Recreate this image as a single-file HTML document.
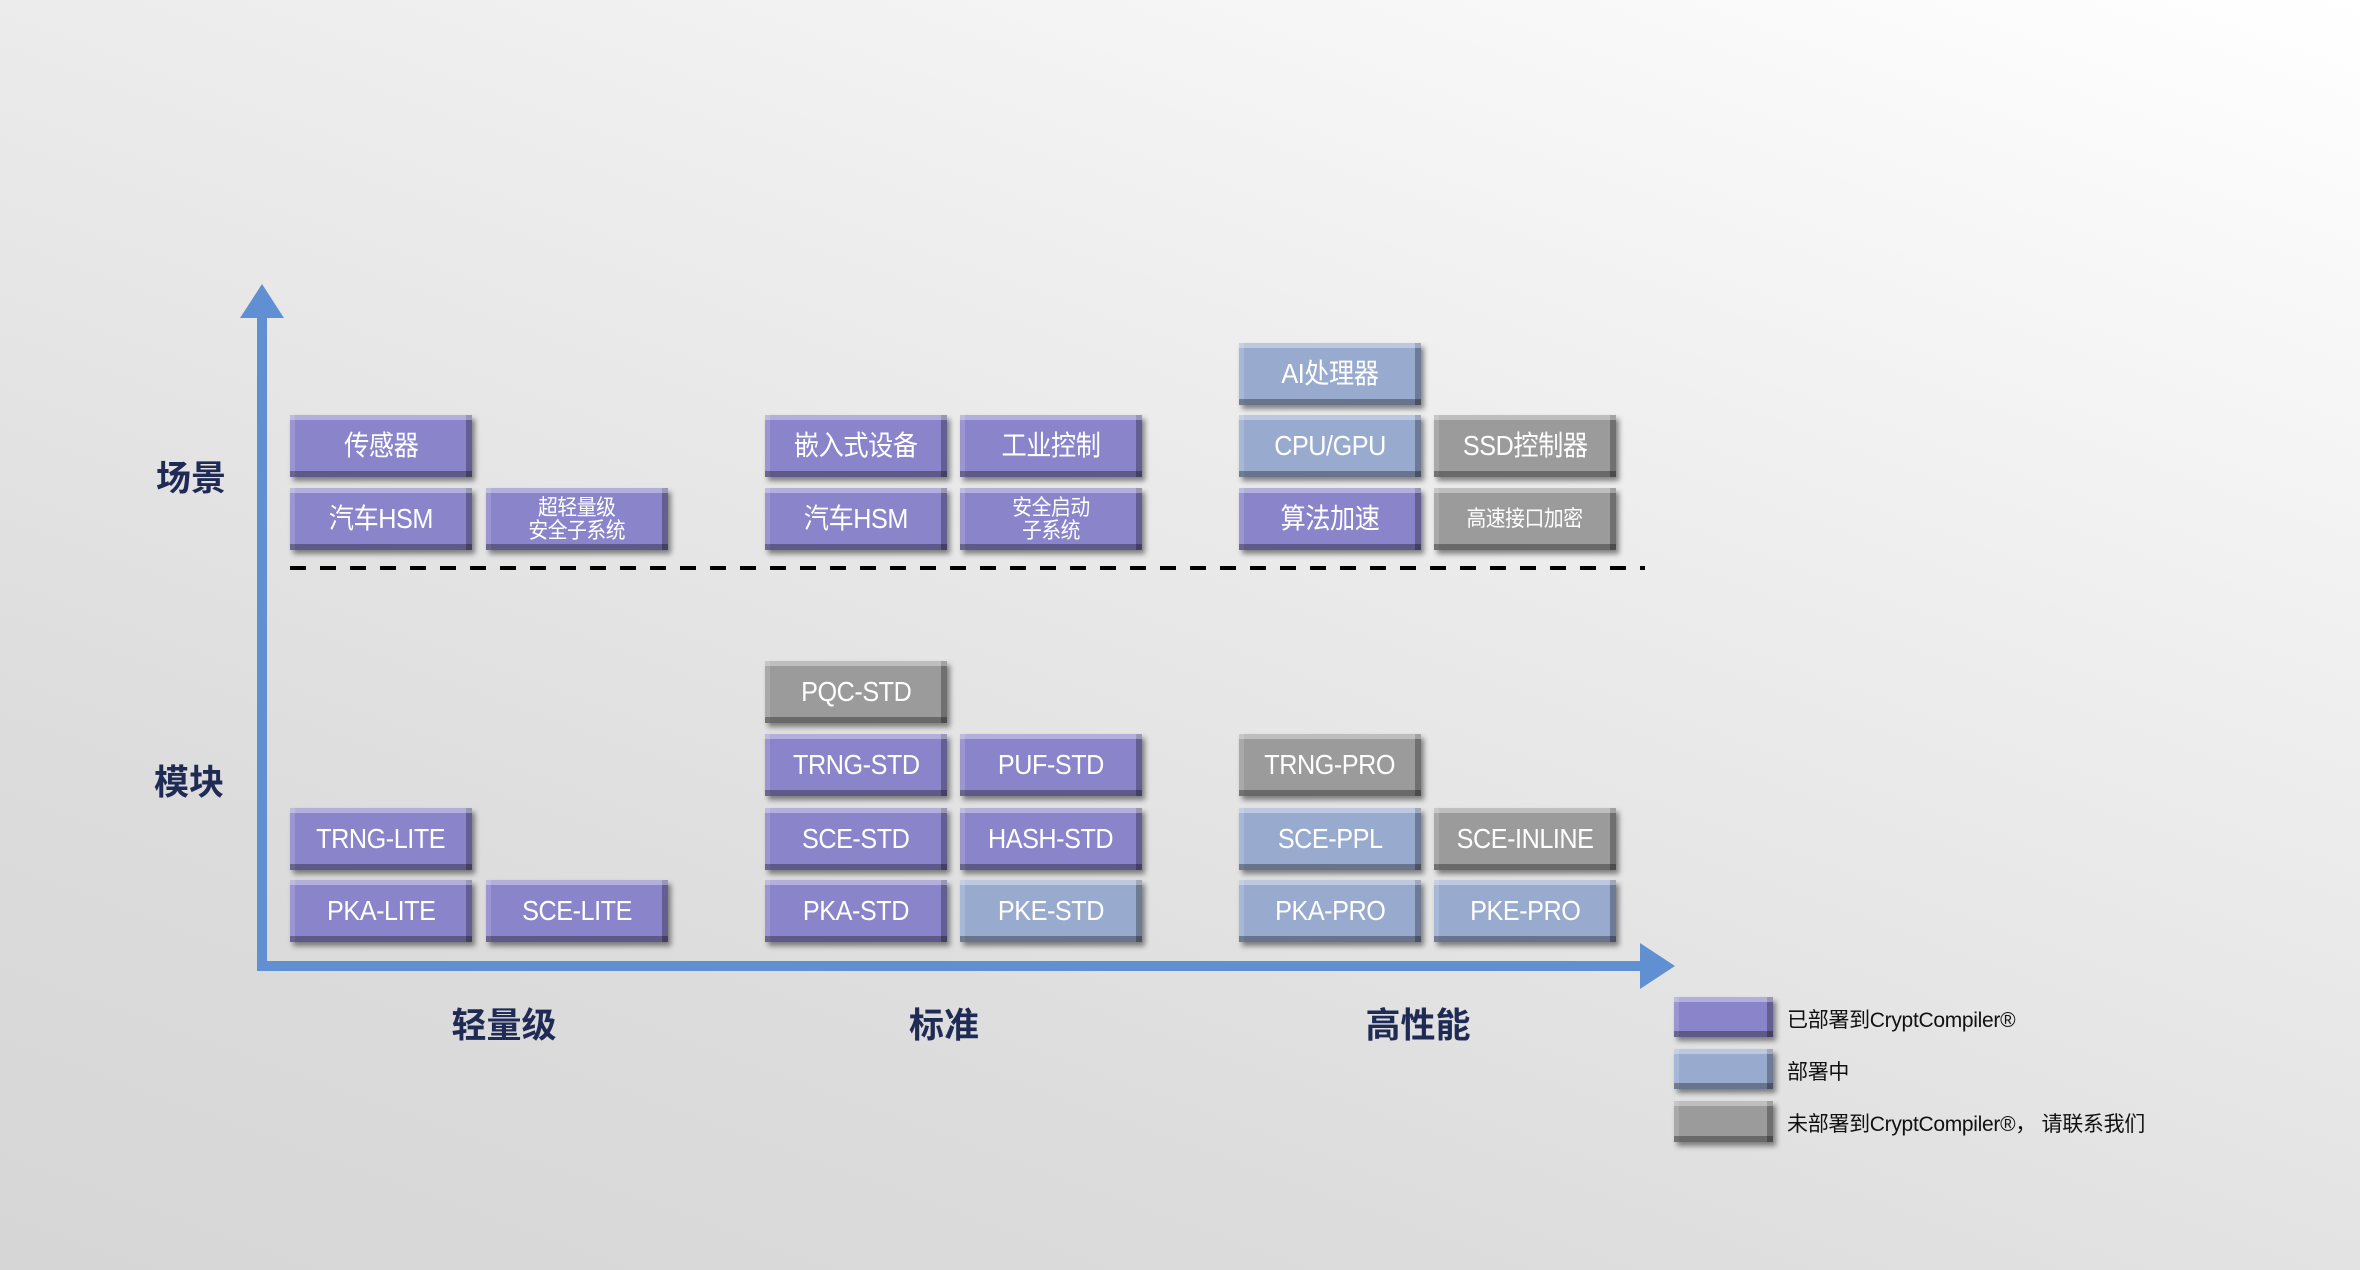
<!DOCTYPE html>
<html><head><meta charset="utf-8"><style>
body{margin:0;width:2360px;height:1270px;overflow:hidden;position:relative;
background:linear-gradient(200deg,#ffffff 0%,#eeeeee 35%,#dcdcdc 75%,#d6d6d6 100%);
font-family:"Liberation Sans","Noto Sans CJK SC",sans-serif;}
.b{position:absolute;width:182px;height:62px;box-sizing:border-box;color:#fff;font-size:28px;
display:flex;align-items:center;justify-content:center;text-align:center;line-height:1.05;letter-spacing:-0.5px;
box-shadow:3px 4px 5px rgba(0,0,0,.45),inset 0 5px 0 rgba(255,255,255,.35),inset 0 -6px 0 rgba(0,0,0,.32),inset 5px 0 0 rgba(255,255,255,.15),inset -6px 0 0 rgba(0,0,0,.28);}
.b span{display:inline-block;transform:scaleX(0.9);}
.p{background:#8a84cb;}
.u{background:#98abcf;}
.g{background:#9b9b9b;}
.s{font-size:22px;}
.lab{position:absolute;font-weight:bold;font-size:35px;color:#1f2b55;transform:translate(-50%,-50%);white-space:nowrap;}
.lg{position:absolute;left:1787px;font-size:21px;color:#111;letter-spacing:-0.3px;}
</style></head><body>
<svg width="2360" height="1270" style="position:absolute;left:0;top:0">
<rect x="257" y="300" width="10" height="670" fill="#6090d2"/>
<polygon points="240,318 262,284 284,318" fill="#6090d2"/>
<rect x="257" y="961" width="1395" height="10" fill="#6090d2"/>
<polygon points="1640,943 1675,966 1640,989" fill="#6090d2"/>
<line x1="290" y1="568" x2="1645" y2="568" stroke="#000" stroke-width="4" stroke-dasharray="16,14"/>
</svg>
<div class="lab" style="left:191px;top:476px">场景</div>
<div class="lab" style="left:189px;top:780px">模块</div>
<div class="lab" style="left:504px;top:1023px">轻量级</div>
<div class="lab" style="left:944px;top:1023px">标准</div>
<div class="lab" style="left:1418px;top:1023px">高性能</div>

<div class="b u" style="left:1239px;top:343px"><span>AI处理器</span></div>

<div class="b p" style="left:290px;top:415px"><span>传感器</span></div>
<div class="b p" style="left:765px;top:415px"><span>嵌入式设备</span></div>
<div class="b p" style="left:960px;top:415px"><span>工业控制</span></div>
<div class="b u" style="left:1239px;top:415px"><span>CPU/GPU</span></div>
<div class="b g" style="left:1434px;top:415px"><span>SSD控制器</span></div>

<div class="b p" style="left:290px;top:488px"><span>汽车HSM</span></div>
<div class="b p s" style="left:486px;top:488px"><span>超轻量级<br>安全子系统</span></div>
<div class="b p" style="left:765px;top:488px"><span>汽车HSM</span></div>
<div class="b p s" style="left:960px;top:488px"><span>安全启动<br>子系统</span></div>
<div class="b p" style="left:1239px;top:488px"><span>算法加速</span></div>
<div class="b g s" style="left:1434px;top:488px"><span>高速接口加密</span></div>

<div class="b g" style="left:765px;top:661px"><span>PQC-STD</span></div>

<div class="b p" style="left:765px;top:734px"><span>TRNG-STD</span></div>
<div class="b p" style="left:960px;top:734px"><span>PUF-STD</span></div>
<div class="b g" style="left:1239px;top:734px"><span>TRNG-PRO</span></div>

<div class="b p" style="left:290px;top:808px"><span>TRNG-LITE</span></div>
<div class="b p" style="left:765px;top:808px"><span>SCE-STD</span></div>
<div class="b p" style="left:960px;top:808px"><span>HASH-STD</span></div>
<div class="b u" style="left:1239px;top:808px"><span>SCE-PPL</span></div>
<div class="b g" style="left:1434px;top:808px"><span>SCE-INLINE</span></div>

<div class="b p" style="left:290px;top:880px"><span>PKA-LITE</span></div>
<div class="b p" style="left:486px;top:880px"><span>SCE-LITE</span></div>
<div class="b p" style="left:765px;top:880px"><span>PKA-STD</span></div>
<div class="b u" style="left:960px;top:880px"><span>PKE-STD</span></div>
<div class="b u" style="left:1239px;top:880px"><span>PKA-PRO</span></div>
<div class="b u" style="left:1434px;top:880px"><span>PKE-PRO</span></div>

<div class="b p" style="left:1674px;top:997px;width:99px;height:40px"></div>
<div class="b u" style="left:1674px;top:1049px;width:99px;height:40px"></div>
<div class="b g" style="left:1674px;top:1101px;width:99px;height:41px"></div>
<div class="lg" style="top:1004px">已部署到CryptCompiler®</div>
<div class="lg" style="top:1056px">部署中</div>
<div class="lg" style="top:1108px">未部署到CryptCompiler®， 请联系我们</div>
</body></html>
